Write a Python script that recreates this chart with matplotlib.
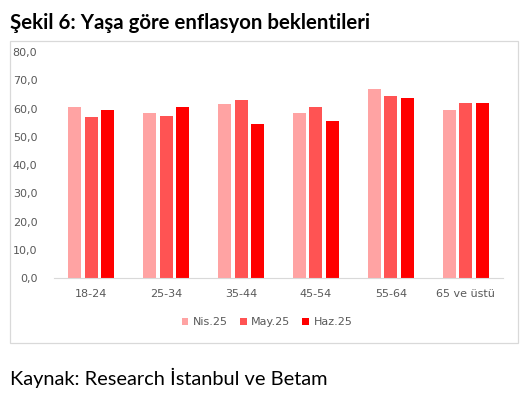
import matplotlib
matplotlib.use("Agg")
import matplotlib.pyplot as plt
import numpy as np
from matplotlib.patches import Rectangle

# data
groups = ["18-24", "25-34", "35-44", "45-54", "55-64", "65 ve üstü"]
nis25 = [60.4, 58.5, 61.5, 58.5, 66.8, 59.6]
may25 = [57.0, 57.4, 63.0, 60.7, 64.6, 61.8]
haz25 = [59.6, 60.4, 54.4, 55.5, 63.8, 61.8]
series_names = ["Nis.25", "May.25", "Haz.25"]
yticks = [0, 10, 20, 30, 40, 50, 60, 70, 80]

colors = ["#FFA3A3", "#FF5353", "#FF0000"]

W, H = 524, 397
fig = plt.figure(figsize=(W / 100, H / 100), dpi=100)

# outer chart frame
fig.patches.append(Rectangle((10 / W, 1 - 343 / H), 508 / W, 302 / H,
                             transform=fig.transFigure, fill=False,
                             edgecolor="#D9D9D9", linewidth=0.9))

ax = fig.add_axes([54 / W, 1 - 278 / H, 449 / W, 226 / H])

x = np.arange(len(groups))
bw = 0.174
step = 0.22
for i, (vals, name) in enumerate(zip([nis25, may25, haz25], series_names)):
    ax.bar(x + (i - 1) * step, vals, width=bw, color=colors[i], label=name)

ax.set_xlim(-0.5, len(groups) - 0.5)
ax.set_ylim(0, 80)
ax.set_yticks(yticks)
ax.set_yticklabels([f"{v:.1f}".replace(".", ",") for v in yticks])
ax.set_xticks(x)
ax.set_xticklabels(groups)
for s in ["top", "right", "left"]:
    ax.spines[s].set_visible(False)
ax.spines["bottom"].set_color("#D9D9D9")
ax.tick_params(axis="both", length=0, colors="#595959", labelsize=8)
ax.tick_params(axis="y", pad=12)
ax.tick_params(axis="x", pad=8)

leg = fig.legend(loc="center", bbox_to_anchor=(267 / W, 1 - 322 / H), ncol=3,
                 frameon=False, fontsize=8, handlelength=0.6, handleheight=0.6,
                 handletextpad=0.4, columnspacing=1.1)
for t in leg.get_texts():
    t.set_color("#595959")

fig.text(10 / W, 1 - 23 / H, "Şekil 6: Yaşa göre enflasyon beklentileri",
         fontsize=14.7, fontweight="bold", family="Lato", va="center", ha="left")
fig.text(10 / W, 1 - 378 / H, "Kaynak: Research İstanbul ve Betam",
         fontsize=14.4, family="Lato", va="center", ha="left")

fig.savefig("out.png", dpi=100)
